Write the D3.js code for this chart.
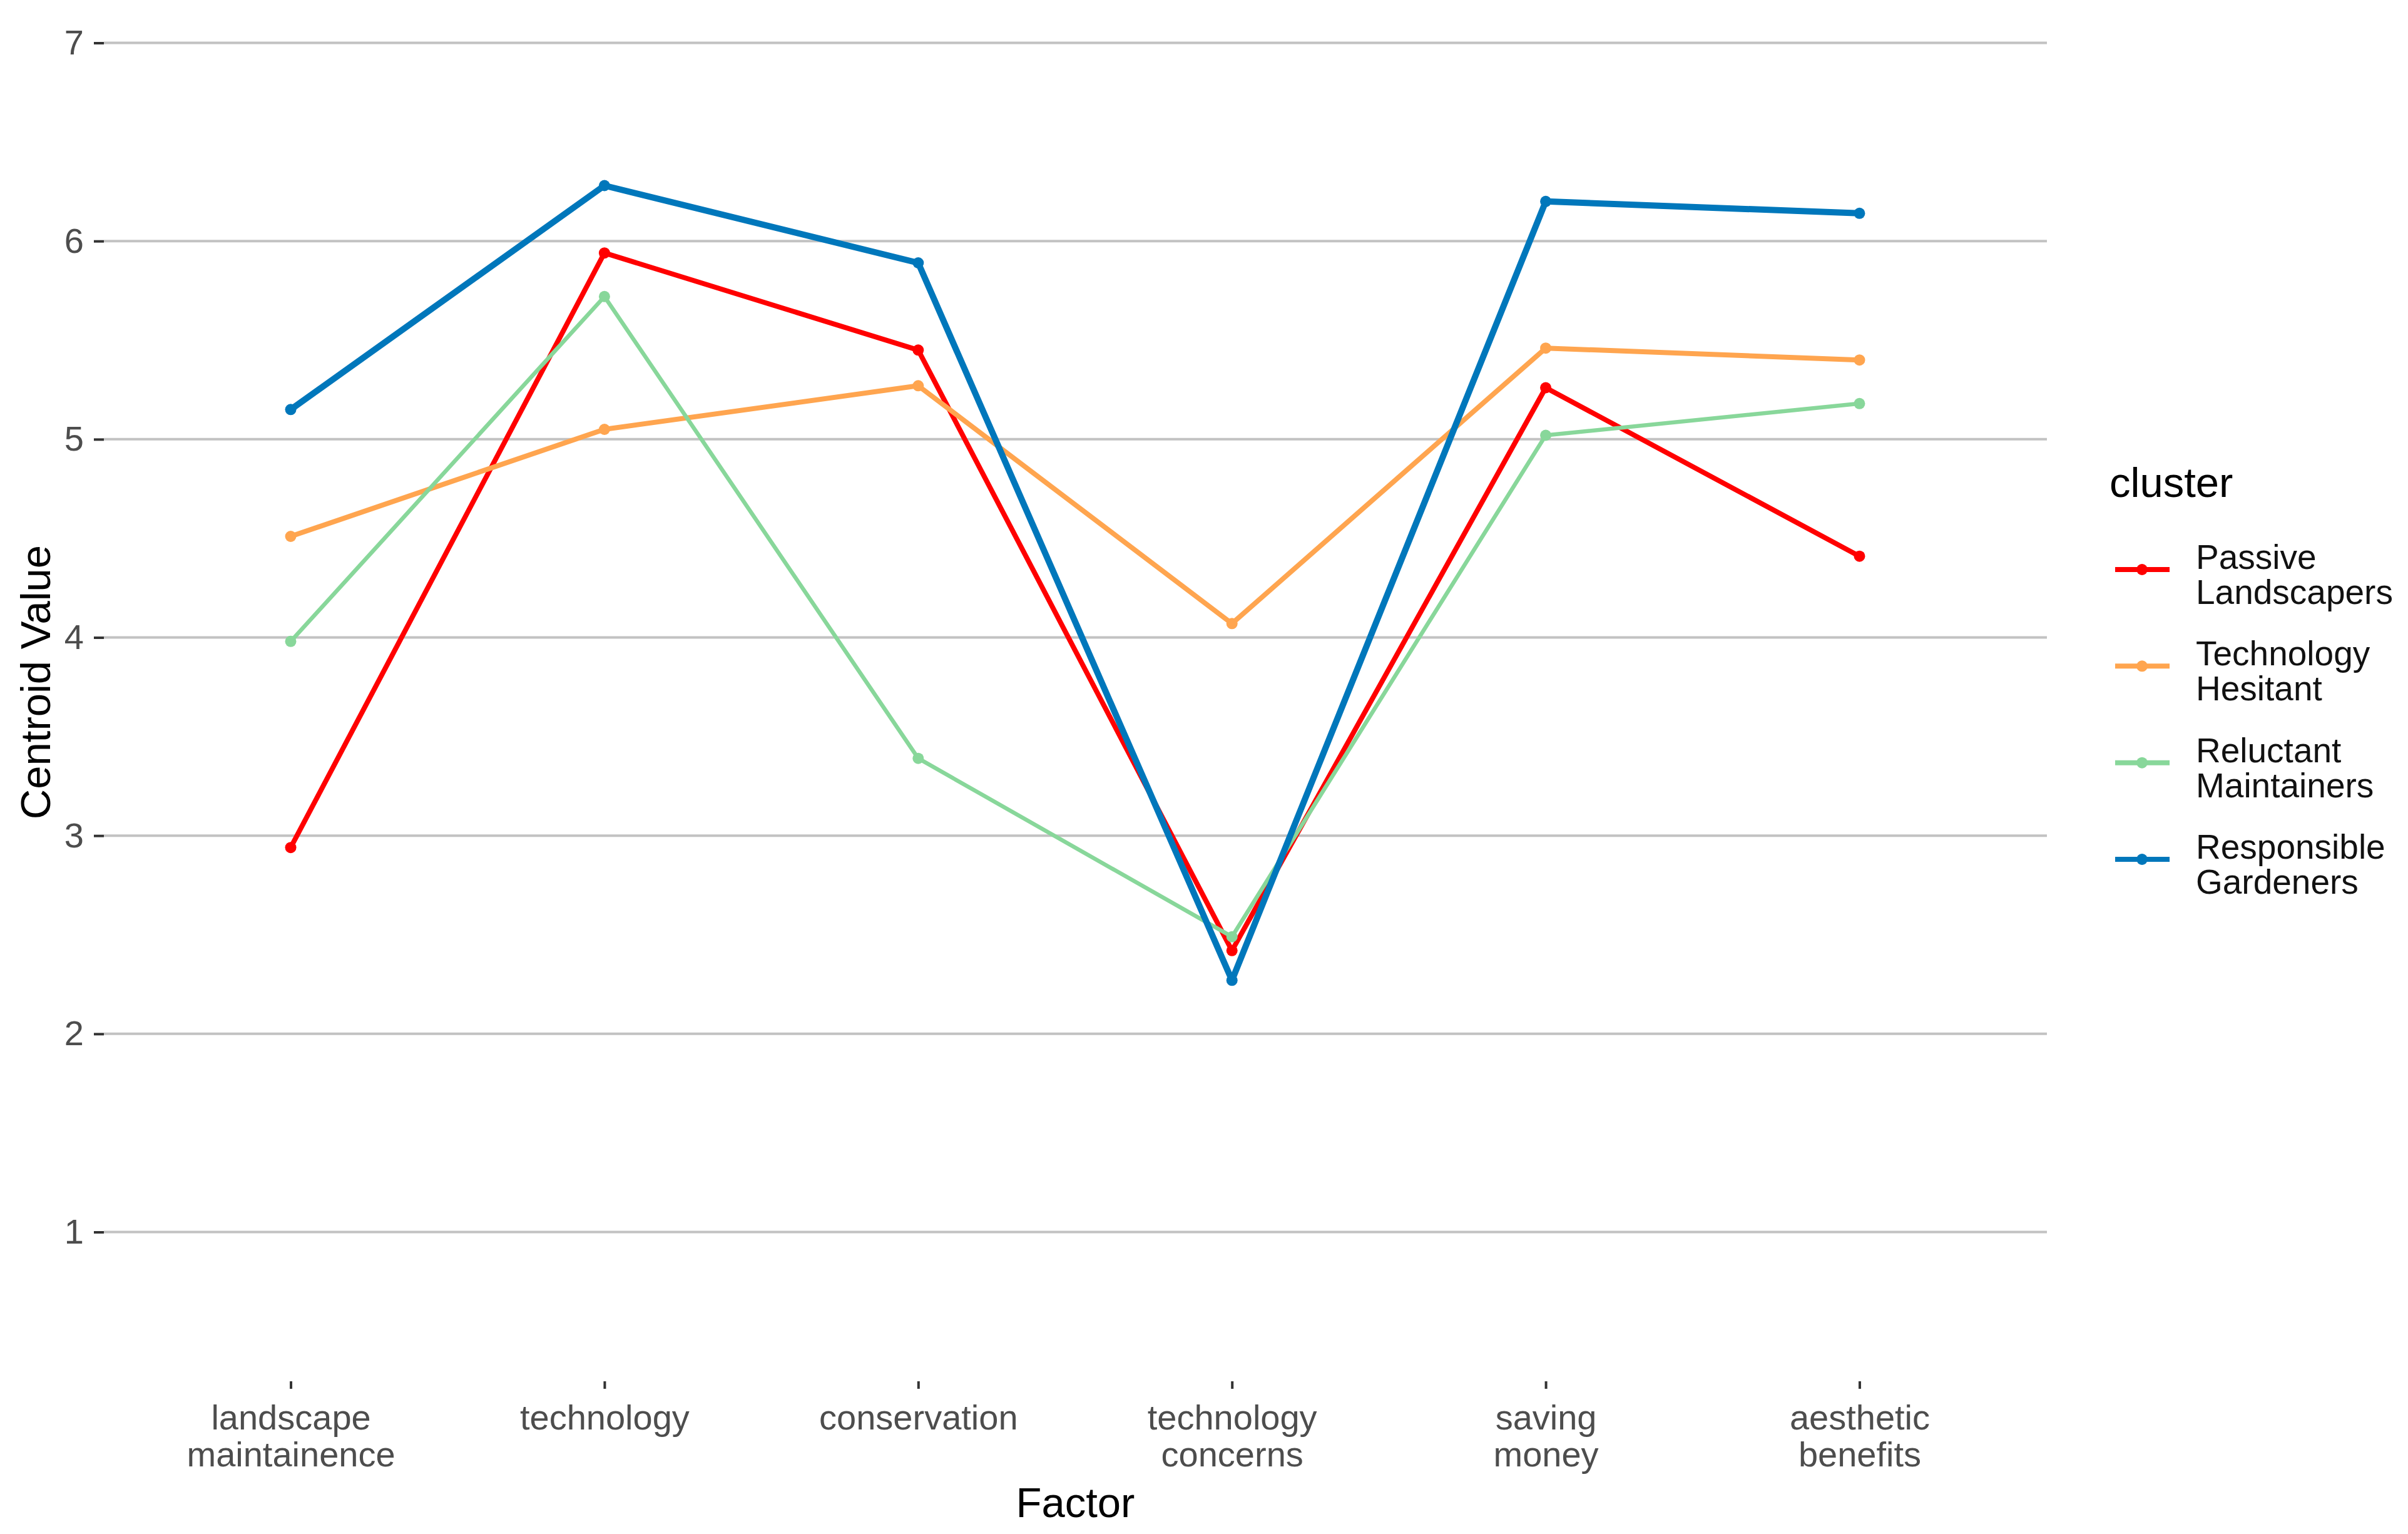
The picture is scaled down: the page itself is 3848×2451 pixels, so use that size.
<!DOCTYPE html>
<html>
<head>
<meta charset="utf-8">
<script src="https://cdn.jsdelivr.net/npm/d3@7"></script>
<style>
  body { margin: 0; background: #fff; }
  text { font-family: "Liberation Sans", Arial, sans-serif; }
</style>
</head>
<body>
<div id="chart-area"></div>
<script>
// categories (x axis), line breaks as in the picture
var factors = ["landscape\nmaintainence", "technology", "conservation",
               "technology\nconcerns", "saving\nmoney", "aesthetic\nbenefits"];

// clusters and their colours
var clusters = ["Passive\nLandscapers", "Technology\nHesitant",
                "Reluctant\nMaintainers", "Responsible\nGardeners"];
var colors = ["#FF0000", "#FFA54F", "#88D79A", "#0077BB"];
var widths = [8, 8, 6.5, 10];

// centroid values per cluster, in factor order
var passive     = [2.94, 5.94, 5.45, 2.42, 5.26, 4.41];
var hesitant    = [4.51, 5.05, 5.27, 4.07, 5.46, 5.40];
var reluctant   = [3.98, 5.72, 3.39, 2.49, 5.02, 5.18];
var responsible = [5.15, 6.28, 5.89, 2.27, 6.20, 6.14];

var yTicks = [1, 2, 3, 4, 5, 6, 7];

var series = [passive, hesitant, reluctant, responsible].map(function(vals, i) {
    return {
        name: clusters[i],
        color: colors[i],
        width: widths[i],
        values: vals.map(function(v, j) { return { factor: factors[j], value: v }; })
    };
});

var W = 3848, H = 2451;
var panel = { left: 166, right: 3271, top: 0, bottom: 2207 };

var svg = d3.select("#chart-area")
    .append("svg")
        .attr("width", W)
        .attr("height", H);

svg.append("rect")
    .attr("width", W)
    .attr("height", H)
    .attr("fill", "#fff");

// X Scale
var x = d3.scalePoint()
    .domain(factors)
    .range([163.7, 3272.3])
    .padding(0.6);

// Y Scale
var y = d3.scaleLinear()
    .domain([1, 7])
    .range([1968.5, 68.5]);

// Grid lines
svg.append("g")
    .attr("class", "grid")
    .selectAll("line")
    .data(yTicks)
    .enter()
    .append("line")
        .attr("x1", panel.left)
        .attr("x2", panel.right)
        .attr("y1", function(d) { return y(d); })
        .attr("y2", function(d) { return y(d); })
        .attr("stroke", "#C2C2C2")
        .attr("stroke-width", 4);

// Y Axis
var yAxis = svg.append("g")
    .attr("class", "y axis")
    .attr("transform", "translate(" + panel.left + ",0)")
    .call(d3.axisLeft(y)
        .tickValues(yTicks)
        .tickFormat(d3.format("d"))
        .tickSize(16)
        .tickSizeOuter(0)
        .tickPadding(16));
yAxis.select(".domain").remove();
yAxis.selectAll(".tick line").attr("stroke", "#333").attr("stroke-width", 4);
yAxis.selectAll(".tick text")
    .attr("font-size", "56px")
    .attr("fill", "#4D4D4D");

// X Axis
var xAxis = svg.append("g")
    .attr("class", "x axis")
    .attr("transform", "translate(0," + panel.bottom + ")")
    .call(d3.axisBottom(x).tickSize(12).tickSizeOuter(0));
xAxis.select(".domain").remove();
xAxis.selectAll(".tick line").attr("stroke", "#333").attr("stroke-width", 4);
xAxis.selectAll(".tick text")
    .attr("font-size", "56px")
    .attr("fill", "#4D4D4D")
    .attr("y", 0)
    .attr("dy", null)
    .text(null)
    .each(function(d) {
        var t = d3.select(this);
        d.split("\n").forEach(function(line, k) {
            t.append("tspan")
                .attr("x", 0)
                .attr("y", 77 + k * 59)
                .text(line);
        });
    });

// Axis titles
svg.append("text")
    .attr("x", (panel.left + panel.right) / 2)
    .attr("y", 2424)
    .attr("font-size", "67px")
    .attr("text-anchor", "middle")
    .attr("fill", "#000")
    .text("Factor");

svg.append("text")
    .attr("transform", "translate(80,1090) rotate(-90)")
    .attr("font-size", "67px")
    .attr("text-anchor", "middle")
    .attr("fill", "#000")
    .text("Centroid Value");

// Lines
var line = d3.line()
    .x(function(d) { return x(d.factor); })
    .y(function(d) { return y(d.value); });

var groups = svg.selectAll(".series")
    .data(series)
    .enter()
    .append("g")
        .attr("class", "series");

groups.append("path")
    .attr("d", function(d) { return line(d.values); })
    .attr("fill", "none")
    .attr("stroke", function(d) { return d.color; })
    .attr("stroke-width", function(d) { return d.width; })
    .attr("stroke-linejoin", "round");

groups.selectAll("circle")
    .data(function(d) { return d.values.map(function(v) { return { v: v, color: d.color }; }); })
    .enter()
    .append("circle")
        .attr("cx", function(d) { return x(d.v.factor); })
        .attr("cy", function(d) { return y(d.v.value); })
        .attr("r", 9)
        .attr("fill", function(d) { return d.color; });

// Legend
var legend = svg.append("g")
    .attr("class", "legend");

legend.append("text")
    .attr("x", 3371)
    .attr("y", 794)
    .attr("font-size", "67px")
    .attr("fill", "#000")
    .text("cluster");

var keyY = d3.scalePoint()
    .domain(clusters)
    .range([910, 1373]);

var items = legend.selectAll(".item")
    .data(series)
    .enter()
    .append("g")
        .attr("class", "item")
        .attr("transform", function(d) { return "translate(0," + keyY(d.name) + ")"; });

items.append("line")
    .attr("x1", 3380)
    .attr("x2", 3467)
    .attr("stroke", function(d) { return d.color; })
    .attr("stroke-width", 8);

items.append("circle")
    .attr("cx", 3423)
    .attr("r", 9)
    .attr("fill", function(d) { return d.color; });

items.append("text")
    .attr("font-size", "55px")
    .attr("fill", "#111")
    .each(function(d) {
        var t = d3.select(this);
        d.name.split("\n").forEach(function(ln, k) {
            t.append("tspan")
                .attr("x", 3509)
                .attr("y", -1 + k * 56)
                .text(ln);
        });
    });
</script>
</body>
</html>
